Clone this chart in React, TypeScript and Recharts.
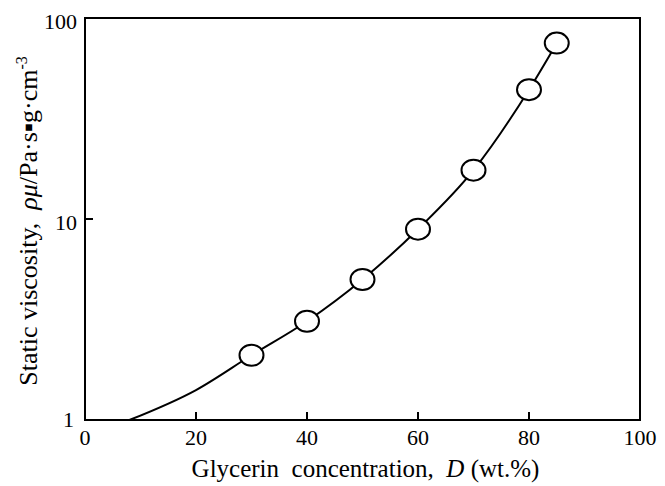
import {
  ComposedChart, Line, Scatter, XAxis, YAxis, ReferenceArea, Label,
} from 'recharts';

// measured points (open circles)
const concentration = [30, 40, 50, 60, 70, 80, 85];
const viscosity = [2.1, 3.1, 5.0, 8.9, 17.5, 44, 75];

// fitted curve
const curveX = [8, 20, 30, 40, 50, 60, 70, 80, 85];
const curveY = [1, 1.41, 2.1, 3.1, 5.0, 8.9, 17.5, 44, 75];

const xTicks = [0, 20, 40, 60, 80, 100];
const yTicks = [1, 10, 100];

const FONT = 'Liberation Serif';
const TICK_MARGIN = 8;
const TICK_LEN = 8;

const points = concentration.map((x, i) => ({ x, y: viscosity[i] }));
const curve = curveX.map((x, i) => ({ x, y: curveY[i] }));

const txt = { fontFamily: FONT, fill: '#000' };

function XTick(props: any) {
  const { x, y, payload } = props;
  const v = payload.value;
  const axisY = y - TICK_MARGIN;
  return (
    <g>
      {v !== 0 && v !== 100 && (
        <line x1={x} x2={x} y1={axisY} y2={axisY - TICK_LEN} stroke="#000" strokeWidth={2} />
      )}
      <text x={x} y={y} dy={17} textAnchor="middle" fontSize={22} style={txt}>
        {v}
      </text>
    </g>
  );
}

function YTick(props: any) {
  const { x, y, payload } = props;
  const v = payload.value;
  const axisX = x + TICK_MARGIN;
  return (
    <g>
      {v === 10 && (
        <line x1={axisX} x2={axisX + TICK_LEN} y1={y} y2={y} stroke="#000" strokeWidth={2} />
      )}
      <text
        x={v === 1 ? x - 3 : x}
        y={y}
        dy={v === 1 ? 7 : 11}
        textAnchor="end"
        fontSize={22}
        style={txt}
      >
        {v}
      </text>
    </g>
  );
}

function YAxisLabel(props: any) {
  const { viewBox } = props;
  const cx = viewBox.x + 37;
  const cy = viewBox.y + viewBox.height / 2 + 2;
  return (
    <text
      x={cx}
      y={cy}
      transform={`rotate(-90, ${cx}, ${cy})`}
      textAnchor="middle"
      fontSize={26}
      style={txt}
    >
      <tspan>{'Static viscosity,\u2002'}</tspan>
      <tspan fontStyle="italic">ρμ</tspan>
      <tspan>/Pa·s▪g·cm</tspan>
      <tspan dy={-10} fontSize={16}>-3</tspan>
    </text>
  );
}

function XAxisLabel(props: any) {
  const vb = props.viewBox;
  const cx = vb.x + vb.width / 2 + 3;
  const cy = vb.y + 57;
  return (
    <text x={cx} y={cy} textAnchor="middle" fontSize={25} style={txt}>
      <tspan>{'Glycerin\u2002concentration,\u2002'}</tspan>
      <tspan fontStyle="italic">D</tspan>
      <tspan> (wt.%)</tspan>
    </text>
  );
}

function Ring(props: any) {
  const { cx, cy } = props;
  return <ellipse cx={cx} cy={cy} rx={12} ry={10.5} fill="#fff" stroke="#000" strokeWidth={2} />;
}

export default function App() {
  return (
    <div style={{ position: 'absolute', left: 0, top: 0, background: '#fff' }}>
      <ComposedChart
        width={665}
        height={486}
        margin={{ top: 18, right: 25, bottom: 0, left: 0 }}
      >
        <XAxis
          type="number"
          dataKey="x"
          domain={[0, 100]}
          ticks={xTicks}
          tickSize={0}
          tickMargin={TICK_MARGIN}
          tick={<XTick />}
          axisLine={{ stroke: '#000', strokeWidth: 2 }}
          height={66}
          allowDataOverflow
        >
          <Label content={<XAxisLabel />} />
        </XAxis>
        <YAxis
          type="number"
          dataKey="y"
          scale="log"
          domain={[1, 100]}
          ticks={yTicks}
          tickSize={0}
          tickMargin={TICK_MARGIN}
          tick={<YTick />}
          axisLine={{ stroke: '#000', strokeWidth: 2 }}
          width={85}
          allowDataOverflow
        >
          <Label content={<YAxisLabel />} />
        </YAxis>
        <ReferenceArea x1={0} x2={100} y1={1} y2={100} fill="none" stroke="#000" strokeWidth={2} ifOverflow="visible" />
        <Line
          data={curve}
          dataKey="y"
          type="monotone"
          stroke="#000"
          strokeWidth={2}
          dot={false}
          activeDot={false}
          isAnimationActive={false}
        />
        <Scatter data={points} dataKey="y" shape={<Ring />} isAnimationActive={false} />
      </ComposedChart>
    </div>
  );
}
